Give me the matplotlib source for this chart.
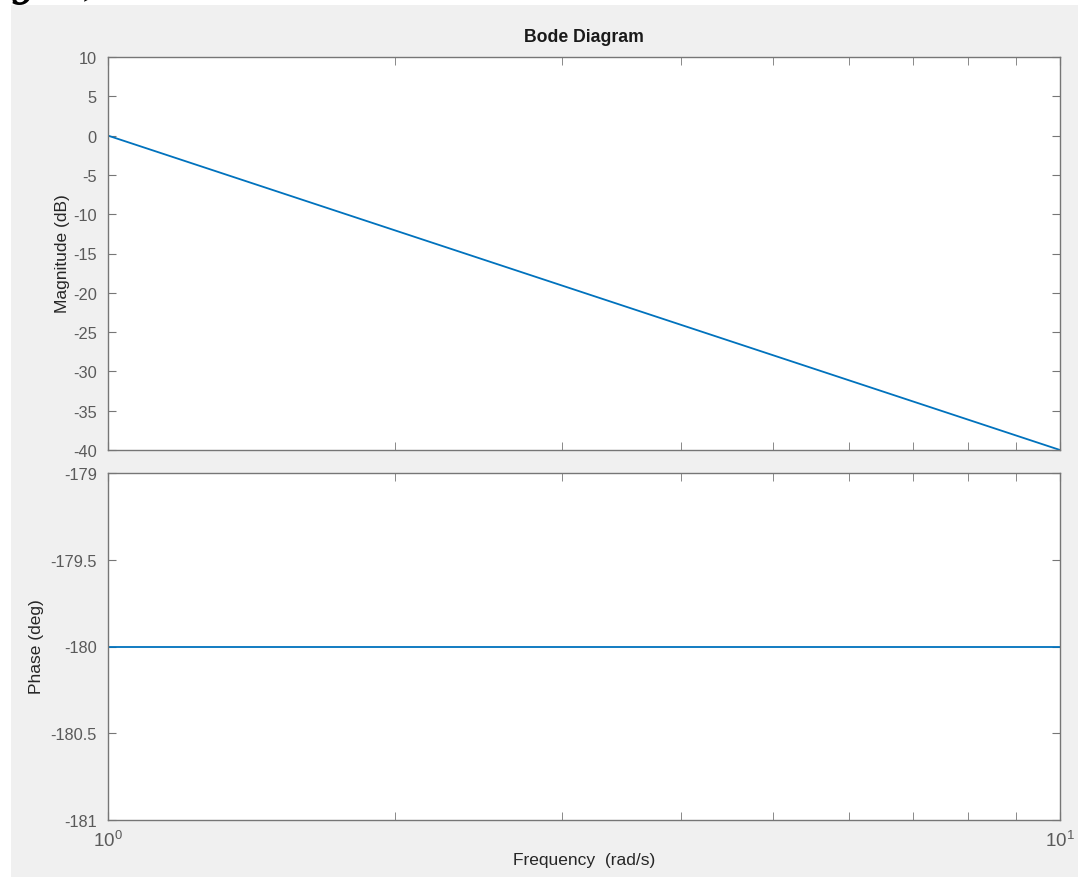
import numpy as np
import matplotlib
matplotlib.use('Agg')
import matplotlib.pyplot as plt
from matplotlib.patches import Rectangle
from matplotlib.ticker import FixedLocator, LogLocator, NullFormatter, FixedFormatter

# === Data ===
freq = [1, 10]              # rad/s
mag_db = [0, -40]           # dB
phase_deg = [-180, -180]    # deg

freq_ticks = [1, 10]
freq_labels = [r'$10^{\mathregular{0}}$', r'$10^{\mathregular{1}}$']
mag_ticks = [-40, -35, -30, -25, -20, -15, -10, -5, 0, 5, 10]
phase_ticks = [-181, -180.5, -180, -179.5, -179]
phase_labels = ['-181', '-180.5', '-180', '-179.5', '-179']

plt.rcParams['font.family'] = ['Liberation Sans', 'DejaVu Sans']
plt.rcParams['axes.unicode_minus'] = False
plt.rcParams['mathtext.fontset'] = 'custom'
plt.rcParams['mathtext.rm'] = 'Liberation Sans'
plt.rcParams['mathtext.it'] = 'Liberation Sans'

W, H = 1078, 878
fig = plt.figure(figsize=(W / 100, H / 100), dpi=100, facecolor='white')

# grey MATLAB figure panel
fig.patches.append(Rectangle((11 / W, 0), 1 - 11 / W, 1 - 6 / H, transform=fig.transFigure,
                             facecolor='#f0f0f0', edgecolor='none', zorder=-10))

# cut-off text from the page above the figure
fig.text(1 / W, 1 - 5 / H, '(jω)', family='DejaVu Serif', fontstyle='italic',
         fontsize=40, va='bottom', ha='left', color='black')

line_c = '#0072bd'
edge_c = '#767676'
tick_lbl_c = '#5a5a5a'
lbl_c = '#262626'

left = 108 / W
width = (1060 - 108) / W
ax1 = fig.add_axes([left, 1 - 451 / H, width, (451 - 58) / H])
ax2 = fig.add_axes([left, 1 - 821 / H, width, (821 - 474) / H])

ax1.plot(freq, mag_db, color=line_c, linewidth=1.3)
ax2.plot(freq, phase_deg, color=line_c, linewidth=1.3)

for ax in (ax1, ax2):
    ax.set_xscale('log')
    ax.set_xlim(1, 10)
    ax.set_facecolor('white')
    for s in ax.spines.values():
        s.set_color(edge_c)
        s.set_linewidth(1.0)
    ax.tick_params(which='both', direction='in', top=True, right=True,
                   colors=edge_c, labelcolor=tick_lbl_c, labelsize=11.8, pad=8)
    ax.tick_params(which='major', length=6)
    ax.tick_params(which='minor', length=6)
    ax.xaxis.set_major_locator(FixedLocator(freq_ticks))
    ax.xaxis.set_minor_locator(LogLocator(base=10, subs=np.arange(2, 10)))
    ax.xaxis.set_minor_formatter(NullFormatter())

ax1.set_ylim(-40, 10)
ax1.yaxis.set_major_locator(FixedLocator(mag_ticks))
ax1.tick_params(axis='x', labelbottom=False)

ax2.set_ylim(-181, -179)
ax2.yaxis.set_major_locator(FixedLocator(phase_ticks))
ax2.yaxis.set_major_formatter(FixedFormatter(phase_labels))
ax2.xaxis.set_major_formatter(FixedFormatter(freq_labels))
ax2.tick_params(axis='x', labelsize=13.5, pad=7)

cx = (108 + 1060) / 2 / W
fig.text(cx, 1 - 37 / H, 'Bode Diagram', fontsize=12.7, fontweight='bold',
         ha='center', va='center', color='#1a1a1a')
fig.text(cx, 1 - 861 / H, 'Frequency  (rad/s)', fontsize=12.5,
         ha='center', va='center', color=lbl_c)
fig.text(62 / W, 1 - 254 / H, 'Magnitude (dB)', fontsize=12.5, rotation=90,
         ha='center', va='center', color=lbl_c)
fig.text(37 / W, 1 - 647 / H, 'Phase (deg)', fontsize=12.5, rotation=90,
         ha='center', va='center', color=lbl_c)

fig.savefig('out.png', dpi=100, facecolor='white')
